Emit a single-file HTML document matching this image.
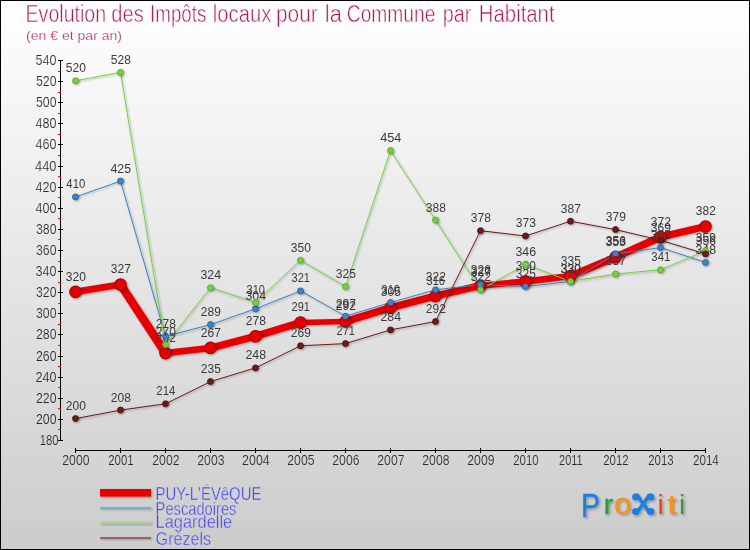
<!DOCTYPE html>
<html lang="fr"><head><meta charset="utf-8"><title>Evolution des Impôts locaux</title>
<style>
html,body{margin:0;padding:0;background:#fff;}
body{width:750px;height:550px;overflow:hidden;}
svg{display:block;font-family:"Liberation Sans",sans-serif;will-change:transform;}
.ax{font-size:14px;fill:#2a2a2a;}
.lb{font-size:13.6px;fill:#3a3a3a;}
.lg{font-size:19px;fill:#4646f5;}
</style></head><body>
<svg width="750" height="550" viewBox="0 0 750 550">
<defs>
<linearGradient id="bg" x1="0" y1="0" x2="0" y2="1"><stop offset="0" stop-color="#ffffff"/><stop offset="1" stop-color="#cccccc"/></linearGradient>
<filter id="sh" x="-5%" y="-5%" width="110%" height="110%"><feDropShadow dx="1" dy="1" stdDeviation="0.8" flood-color="#000" flood-opacity="0.35"/></filter>
<filter id="sh2" x="-5%" y="-10%" width="110%" height="130%"><feDropShadow dx="1.5" dy="1.5" stdDeviation="0.9" flood-color="#000" flood-opacity="0.3"/></filter>
</defs>
<rect x="0" y="0" width="750" height="550" fill="#000"/>
<rect x="1" y="1" width="748" height="548" fill="url(#bg)"/>

<text y="22" font-size="23" fill="#b01c56" stroke="#fefefe" stroke-width="0.5" stroke-linejoin="round"><tspan x="25.5" textLength="80.7" lengthAdjust="spacingAndGlyphs">Evolution</tspan> <tspan x="111.3" textLength="32.4" lengthAdjust="spacingAndGlyphs">des</tspan> <tspan x="150.1" textLength="56.3" lengthAdjust="spacingAndGlyphs">Impôts</tspan> <tspan x="212.8" textLength="58.5" lengthAdjust="spacingAndGlyphs">locaux</tspan> <tspan x="276.0" textLength="41.8" lengthAdjust="spacingAndGlyphs">pour</tspan> <tspan x="324.8" textLength="17.0" lengthAdjust="spacingAndGlyphs">la</tspan> <tspan x="346.8" textLength="88.6" lengthAdjust="spacingAndGlyphs">Commune</tspan> <tspan x="442.8" textLength="28.6" lengthAdjust="spacingAndGlyphs">par</tspan> <tspan x="478.8" textLength="75.8" lengthAdjust="spacingAndGlyphs">Habitant</tspan></text>
<text x="26" y="39.5" font-size="13" fill="#b01c56" stroke="#fcfcfc" stroke-width="0.25" stroke-linejoin="round" textLength="96" lengthAdjust="spacingAndGlyphs">(en € et par an)</text>
<g stroke="#000" stroke-width="1" shape-rendering="crispEdges">
<line x1="60.5" y1="60" x2="60.5" y2="441"/>
<line x1="58" y1="440.5" x2="63" y2="440.5"/>
<line x1="58" y1="419.5" x2="63" y2="419.5"/>
<line x1="58" y1="398.5" x2="63" y2="398.5"/>
<line x1="58" y1="377.5" x2="63" y2="377.5"/>
<line x1="58" y1="356.5" x2="63" y2="356.5"/>
<line x1="58" y1="334.5" x2="63" y2="334.5"/>
<line x1="58" y1="313.5" x2="63" y2="313.5"/>
<line x1="58" y1="292.5" x2="63" y2="292.5"/>
<line x1="58" y1="271.5" x2="63" y2="271.5"/>
<line x1="58" y1="250.5" x2="63" y2="250.5"/>
<line x1="58" y1="229.5" x2="63" y2="229.5"/>
<line x1="58" y1="208.5" x2="63" y2="208.5"/>
<line x1="58" y1="187.5" x2="63" y2="187.5"/>
<line x1="58" y1="166.5" x2="63" y2="166.5"/>
<line x1="58" y1="144.5" x2="63" y2="144.5"/>
<line x1="58" y1="123.5" x2="63" y2="123.5"/>
<line x1="58" y1="102.5" x2="63" y2="102.5"/>
<line x1="58" y1="81.5" x2="63" y2="81.5"/>
<line x1="58" y1="60.5" x2="63" y2="60.5"/>
</g>
<g stroke="#ff0000" stroke-width="1" shape-rendering="crispEdges">
<line x1="58" y1="429.5" x2="61" y2="429.5"/>
<line x1="58" y1="408.5" x2="61" y2="408.5"/>
<line x1="58" y1="387.5" x2="61" y2="387.5"/>
<line x1="58" y1="366.5" x2="61" y2="366.5"/>
<line x1="58" y1="345.5" x2="61" y2="345.5"/>
<line x1="58" y1="324.5" x2="61" y2="324.5"/>
<line x1="58" y1="303.5" x2="61" y2="303.5"/>
<line x1="58" y1="282.5" x2="61" y2="282.5"/>
<line x1="58" y1="261.5" x2="61" y2="261.5"/>
<line x1="58" y1="239.5" x2="61" y2="239.5"/>
<line x1="58" y1="218.5" x2="61" y2="218.5"/>
<line x1="58" y1="197.5" x2="61" y2="197.5"/>
<line x1="58" y1="176.5" x2="61" y2="176.5"/>
<line x1="58" y1="155.5" x2="61" y2="155.5"/>
<line x1="58" y1="134.5" x2="61" y2="134.5"/>
<line x1="58" y1="113.5" x2="61" y2="113.5"/>
<line x1="58" y1="92.5" x2="61" y2="92.5"/>
<line x1="58" y1="71.5" x2="61" y2="71.5"/>
</g>
<text class="ax" x="58.5" y="445.0" stroke="#d6d6d6" stroke-width="0.18" stroke-linejoin="round" text-anchor="end" textLength="18.8" lengthAdjust="spacingAndGlyphs">180</text>
<text class="ax" x="56.5" y="423.9" stroke="#d8d8d8" stroke-width="0.18" stroke-linejoin="round" text-anchor="end" textLength="20.5" lengthAdjust="spacingAndGlyphs">200</text>
<text class="ax" x="56.5" y="402.8" stroke="#dadada" stroke-width="0.18" stroke-linejoin="round" text-anchor="end" textLength="20.5" lengthAdjust="spacingAndGlyphs">220</text>
<text class="ax" x="56.5" y="381.7" stroke="#dcdcdc" stroke-width="0.18" stroke-linejoin="round" text-anchor="end" textLength="21.0" lengthAdjust="spacingAndGlyphs">240</text>
<text class="ax" x="56.5" y="360.6" stroke="#dedede" stroke-width="0.18" stroke-linejoin="round" text-anchor="end" textLength="20.5" lengthAdjust="spacingAndGlyphs">260</text>
<text class="ax" x="56.5" y="339.4" stroke="#e0e0e0" stroke-width="0.18" stroke-linejoin="round" text-anchor="end" textLength="20.5" lengthAdjust="spacingAndGlyphs">280</text>
<text class="ax" x="56.5" y="318.3" stroke="#e2e2e2" stroke-width="0.18" stroke-linejoin="round" text-anchor="end" textLength="20.5" lengthAdjust="spacingAndGlyphs">300</text>
<text class="ax" x="56.5" y="297.2" stroke="#e4e4e4" stroke-width="0.18" stroke-linejoin="round" text-anchor="end" textLength="20.5" lengthAdjust="spacingAndGlyphs">320</text>
<text class="ax" x="56.5" y="276.1" stroke="#e6e6e6" stroke-width="0.18" stroke-linejoin="round" text-anchor="end" textLength="21.0" lengthAdjust="spacingAndGlyphs">340</text>
<text class="ax" x="56.5" y="255.0" stroke="#e8e8e8" stroke-width="0.18" stroke-linejoin="round" text-anchor="end" textLength="20.5" lengthAdjust="spacingAndGlyphs">360</text>
<text class="ax" x="56.5" y="233.9" stroke="#eaeaea" stroke-width="0.18" stroke-linejoin="round" text-anchor="end" textLength="20.5" lengthAdjust="spacingAndGlyphs">380</text>
<text class="ax" x="56.5" y="212.8" stroke="#ececec" stroke-width="0.18" stroke-linejoin="round" text-anchor="end" textLength="21.0" lengthAdjust="spacingAndGlyphs">400</text>
<text class="ax" x="56.5" y="191.7" stroke="#eeeeee" stroke-width="0.18" stroke-linejoin="round" text-anchor="end" textLength="21.0" lengthAdjust="spacingAndGlyphs">420</text>
<text class="ax" x="56.5" y="170.6" stroke="#f0f0f0" stroke-width="0.18" stroke-linejoin="round" text-anchor="end" textLength="21.5" lengthAdjust="spacingAndGlyphs">440</text>
<text class="ax" x="56.5" y="149.4" stroke="#f2f2f2" stroke-width="0.18" stroke-linejoin="round" text-anchor="end" textLength="21.0" lengthAdjust="spacingAndGlyphs">460</text>
<text class="ax" x="56.5" y="128.3" stroke="#f4f4f4" stroke-width="0.18" stroke-linejoin="round" text-anchor="end" textLength="21.0" lengthAdjust="spacingAndGlyphs">480</text>
<text class="ax" x="56.5" y="107.2" stroke="#f6f6f6" stroke-width="0.18" stroke-linejoin="round" text-anchor="end" textLength="20.5" lengthAdjust="spacingAndGlyphs">500</text>
<text class="ax" x="56.5" y="86.1" stroke="#f7f7f7" stroke-width="0.18" stroke-linejoin="round" text-anchor="end" textLength="20.5" lengthAdjust="spacingAndGlyphs">520</text>
<text class="ax" x="56.5" y="65.0" stroke="#f9f9f9" stroke-width="0.18" stroke-linejoin="round" text-anchor="end" textLength="21.0" lengthAdjust="spacingAndGlyphs">540</text>
<g stroke="#000" stroke-width="1" shape-rendering="crispEdges">
<line x1="75" y1="450.5" x2="706" y2="450.5"/>
<line x1="75.5" y1="448" x2="75.5" y2="453"/>
<line x1="120.5" y1="448" x2="120.5" y2="453"/>
<line x1="165.5" y1="448" x2="165.5" y2="453"/>
<line x1="210.5" y1="448" x2="210.5" y2="453"/>
<line x1="255.5" y1="448" x2="255.5" y2="453"/>
<line x1="300.5" y1="448" x2="300.5" y2="453"/>
<line x1="345.5" y1="448" x2="345.5" y2="453"/>
<line x1="390.5" y1="448" x2="390.5" y2="453"/>
<line x1="435.5" y1="448" x2="435.5" y2="453"/>
<line x1="480.5" y1="448" x2="480.5" y2="453"/>
<line x1="525.5" y1="448" x2="525.5" y2="453"/>
<line x1="570.5" y1="448" x2="570.5" y2="453"/>
<line x1="615.5" y1="448" x2="615.5" y2="453"/>
<line x1="660.5" y1="448" x2="660.5" y2="453"/>
<line x1="705.5" y1="448" x2="705.5" y2="453"/>
</g>
<text class="ax" x="75.9" y="464.8" stroke="#d4d4d4" stroke-width="0.18" stroke-linejoin="round" text-anchor="middle" textLength="27.1" lengthAdjust="spacingAndGlyphs">2000</text>
<text class="ax" x="120.9" y="464.8" stroke="#d4d4d4" stroke-width="0.18" stroke-linejoin="round" text-anchor="middle" textLength="25.4" lengthAdjust="spacingAndGlyphs">2001</text>
<text class="ax" x="165.9" y="464.8" stroke="#d4d4d4" stroke-width="0.18" stroke-linejoin="round" text-anchor="middle" textLength="27.1" lengthAdjust="spacingAndGlyphs">2002</text>
<text class="ax" x="210.9" y="464.8" stroke="#d4d4d4" stroke-width="0.18" stroke-linejoin="round" text-anchor="middle" textLength="27.1" lengthAdjust="spacingAndGlyphs">2003</text>
<text class="ax" x="255.9" y="464.8" stroke="#d4d4d4" stroke-width="0.18" stroke-linejoin="round" text-anchor="middle" textLength="27.6" lengthAdjust="spacingAndGlyphs">2004</text>
<text class="ax" x="300.9" y="464.8" stroke="#d4d4d4" stroke-width="0.18" stroke-linejoin="round" text-anchor="middle" textLength="27.1" lengthAdjust="spacingAndGlyphs">2005</text>
<text class="ax" x="345.9" y="464.8" stroke="#d4d4d4" stroke-width="0.18" stroke-linejoin="round" text-anchor="middle" textLength="27.1" lengthAdjust="spacingAndGlyphs">2006</text>
<text class="ax" x="390.9" y="464.8" stroke="#d4d4d4" stroke-width="0.18" stroke-linejoin="round" text-anchor="middle" textLength="27.1" lengthAdjust="spacingAndGlyphs">2007</text>
<text class="ax" x="435.9" y="464.8" stroke="#d4d4d4" stroke-width="0.18" stroke-linejoin="round" text-anchor="middle" textLength="27.1" lengthAdjust="spacingAndGlyphs">2008</text>
<text class="ax" x="480.9" y="464.8" stroke="#d4d4d4" stroke-width="0.18" stroke-linejoin="round" text-anchor="middle" textLength="27.1" lengthAdjust="spacingAndGlyphs">2009</text>
<text class="ax" x="525.9" y="464.8" stroke="#d4d4d4" stroke-width="0.18" stroke-linejoin="round" text-anchor="middle" textLength="25.4" lengthAdjust="spacingAndGlyphs">2010</text>
<text class="ax" x="570.9" y="464.8" stroke="#d4d4d4" stroke-width="0.18" stroke-linejoin="round" text-anchor="middle" textLength="23.7" lengthAdjust="spacingAndGlyphs">2011</text>
<text class="ax" x="615.9" y="464.8" stroke="#d4d4d4" stroke-width="0.18" stroke-linejoin="round" text-anchor="middle" textLength="25.4" lengthAdjust="spacingAndGlyphs">2012</text>
<text class="ax" x="660.9" y="464.8" stroke="#d4d4d4" stroke-width="0.18" stroke-linejoin="round" text-anchor="middle" textLength="25.4" lengthAdjust="spacingAndGlyphs">2013</text>
<text class="ax" x="705.9" y="464.8" stroke="#d4d4d4" stroke-width="0.18" stroke-linejoin="round" text-anchor="middle" textLength="25.9" lengthAdjust="spacingAndGlyphs">2014</text>
<g filter="url(#sh)">
<line x1="75.5" y1="291.9" x2="120.5" y2="284.5" stroke="#e60000" stroke-width="6.8"/>
<line x1="120.5" y1="284.5" x2="165.5" y2="353.1" stroke="#e60000" stroke-width="8.5"/>
<line x1="165.5" y1="353.1" x2="210.5" y2="347.9" stroke="#e60000" stroke-width="6.5"/>
<line x1="210.5" y1="347.9" x2="255.5" y2="336.3" stroke="#e60000" stroke-width="7.2"/>
<line x1="255.5" y1="336.3" x2="300.5" y2="322.5" stroke="#e60000" stroke-width="7.3"/>
<line x1="300.5" y1="322.5" x2="345.5" y2="321.5" stroke="#e60000" stroke-width="5.7"/>
<line x1="345.5" y1="321.5" x2="390.5" y2="307.8" stroke="#e60000" stroke-width="7.3"/>
<line x1="390.5" y1="307.8" x2="435.5" y2="296.1" stroke="#e60000" stroke-width="7.2"/>
<line x1="435.5" y1="296.1" x2="480.5" y2="285.6" stroke="#e60000" stroke-width="7.2"/>
<line x1="480.5" y1="285.6" x2="525.5" y2="281.4" stroke="#e60000" stroke-width="6.3"/>
<line x1="525.5" y1="281.4" x2="570.5" y2="276.1" stroke="#e60000" stroke-width="6.5"/>
<line x1="570.5" y1="276.1" x2="615.5" y2="257.1" stroke="#e60000" stroke-width="7.4"/>
<line x1="615.5" y1="257.1" x2="660.5" y2="237.0" stroke="#e60000" stroke-width="7.4"/>
<line x1="660.5" y1="237.0" x2="705.5" y2="226.5" stroke="#e60000" stroke-width="7.2"/>
</g>
<g filter="url(#sh)">
<polyline points="75.5,196.9 120.5,181.1 165.5,336.3 210.5,324.6 255.5,308.8 300.5,290.9 345.5,316.2 390.5,302.5 435.5,289.8 480.5,284.5 525.5,286.6 570.5,281.4 615.5,253.9 660.5,247.6 705.5,262.4" fill="none" stroke="#3d85c6" stroke-width="1.0" stroke-linejoin="round"/>
</g>
<g filter="url(#sh)">
<polyline points="75.5,80.8 120.5,72.4 165.5,344.7 210.5,287.7 255.5,302.5 300.5,260.3 345.5,286.6 390.5,150.5 435.5,220.1 480.5,289.8 525.5,264.5 570.5,281.4 615.5,274.0 660.5,269.8 705.5,250.8" fill="none" stroke="#76d03c" stroke-width="1.0" stroke-linejoin="round"/>
</g>
<g filter="url(#sh)">
<polyline points="75.5,418.6 120.5,410.1 165.5,403.8 210.5,381.6 255.5,367.9 300.5,345.8 345.5,343.6 390.5,329.9 435.5,321.5 480.5,230.7 525.5,236.0 570.5,221.2 615.5,229.6 660.5,240.2 705.5,253.9" fill="none" stroke="#6a1c1c" stroke-width="1.0" stroke-linejoin="round"/>
</g>
<g filter="url(#sh)">
<circle cx="75.5" cy="291.9" r="5.75" fill="#e60000" stroke="#a80000" stroke-width="1.1"/>
<circle cx="120.5" cy="284.5" r="5.75" fill="#e60000" stroke="#a80000" stroke-width="1.1"/>
<circle cx="165.5" cy="353.1" r="5.75" fill="#e60000" stroke="#a80000" stroke-width="1.1"/>
<circle cx="210.5" cy="347.9" r="5.75" fill="#e60000" stroke="#a80000" stroke-width="1.1"/>
<circle cx="255.5" cy="336.3" r="5.75" fill="#e60000" stroke="#a80000" stroke-width="1.1"/>
<circle cx="300.5" cy="322.5" r="5.75" fill="#e60000" stroke="#a80000" stroke-width="1.1"/>
<circle cx="345.5" cy="321.5" r="5.75" fill="#e60000" stroke="#a80000" stroke-width="1.1"/>
<circle cx="390.5" cy="307.8" r="5.75" fill="#e60000" stroke="#a80000" stroke-width="1.1"/>
<circle cx="435.5" cy="296.1" r="5.75" fill="#e60000" stroke="#a80000" stroke-width="1.1"/>
<circle cx="480.5" cy="285.6" r="5.75" fill="#e60000" stroke="#a80000" stroke-width="1.1"/>
<circle cx="525.5" cy="281.4" r="5.75" fill="#e60000" stroke="#a80000" stroke-width="1.1"/>
<circle cx="570.5" cy="276.1" r="5.75" fill="#e60000" stroke="#a80000" stroke-width="1.1"/>
<circle cx="615.5" cy="257.1" r="5.75" fill="#e60000" stroke="#a80000" stroke-width="1.1"/>
<circle cx="660.5" cy="237.0" r="5.75" fill="#e60000" stroke="#a80000" stroke-width="1.1"/>
<circle cx="705.5" cy="226.5" r="5.75" fill="#e60000" stroke="#a80000" stroke-width="1.1"/>
</g>
<text class="lb" x="75.8" y="280.5" text-anchor="middle" textLength="20.1" lengthAdjust="spacingAndGlyphs">320</text>
<text class="lb" x="120.8" y="273.1" text-anchor="middle" textLength="20.1" lengthAdjust="spacingAndGlyphs">327</text>
<text class="lb" x="165.8" y="341.7" text-anchor="middle" textLength="20.1" lengthAdjust="spacingAndGlyphs">262</text>
<text class="lb" x="210.8" y="336.5" text-anchor="middle" textLength="20.1" lengthAdjust="spacingAndGlyphs">267</text>
<text class="lb" x="255.8" y="324.9" text-anchor="middle" textLength="20.1" lengthAdjust="spacingAndGlyphs">278</text>
<text class="lb" x="300.8" y="311.1" text-anchor="middle" textLength="18.4" lengthAdjust="spacingAndGlyphs">291</text>
<text class="lb" x="345.8" y="310.1" text-anchor="middle" textLength="20.1" lengthAdjust="spacingAndGlyphs">292</text>
<text class="lb" x="390.8" y="296.4" text-anchor="middle" textLength="20.1" lengthAdjust="spacingAndGlyphs">305</text>
<text class="lb" x="435.8" y="284.7" text-anchor="middle" textLength="18.4" lengthAdjust="spacingAndGlyphs">316</text>
<text class="lb" x="480.8" y="274.2" text-anchor="middle" textLength="20.1" lengthAdjust="spacingAndGlyphs">326</text>
<text class="lb" x="525.8" y="270.0" text-anchor="middle" textLength="20.1" lengthAdjust="spacingAndGlyphs">330</text>
<text class="lb" x="570.8" y="264.7" text-anchor="middle" textLength="20.1" lengthAdjust="spacingAndGlyphs">335</text>
<text class="lb" x="615.8" y="245.7" text-anchor="middle" textLength="20.1" lengthAdjust="spacingAndGlyphs">353</text>
<text class="lb" x="660.8" y="225.6" text-anchor="middle" textLength="20.1" lengthAdjust="spacingAndGlyphs">372</text>
<text class="lb" x="705.8" y="215.1" text-anchor="middle" textLength="20.1" lengthAdjust="spacingAndGlyphs">382</text>
<g filter="url(#sh)">
<circle cx="75.5" cy="196.9" r="3.0" fill="#3d85c6" stroke="#2a5f96" stroke-width="0.8"/>
<circle cx="120.5" cy="181.1" r="3.0" fill="#3d85c6" stroke="#2a5f96" stroke-width="0.8"/>
<circle cx="165.5" cy="336.3" r="3.0" fill="#3d85c6" stroke="#2a5f96" stroke-width="0.8"/>
<circle cx="210.5" cy="324.6" r="3.0" fill="#3d85c6" stroke="#2a5f96" stroke-width="0.8"/>
<circle cx="255.5" cy="308.8" r="3.0" fill="#3d85c6" stroke="#2a5f96" stroke-width="0.8"/>
<circle cx="300.5" cy="290.9" r="3.0" fill="#3d85c6" stroke="#2a5f96" stroke-width="0.8"/>
<circle cx="345.5" cy="316.2" r="3.0" fill="#3d85c6" stroke="#2a5f96" stroke-width="0.8"/>
<circle cx="390.5" cy="302.5" r="3.0" fill="#3d85c6" stroke="#2a5f96" stroke-width="0.8"/>
<circle cx="435.5" cy="289.8" r="3.0" fill="#3d85c6" stroke="#2a5f96" stroke-width="0.8"/>
<circle cx="480.5" cy="284.5" r="3.0" fill="#3d85c6" stroke="#2a5f96" stroke-width="0.8"/>
<circle cx="525.5" cy="286.6" r="3.0" fill="#3d85c6" stroke="#2a5f96" stroke-width="0.8"/>
<circle cx="570.5" cy="281.4" r="3.0" fill="#3d85c6" stroke="#2a5f96" stroke-width="0.8"/>
<circle cx="615.5" cy="253.9" r="3.0" fill="#3d85c6" stroke="#2a5f96" stroke-width="0.8"/>
<circle cx="660.5" cy="247.6" r="3.0" fill="#3d85c6" stroke="#2a5f96" stroke-width="0.8"/>
<circle cx="705.5" cy="262.4" r="3.0" fill="#3d85c6" stroke="#2a5f96" stroke-width="0.8"/>
</g>
<text class="lb" x="75.8" y="188.3" text-anchor="middle" textLength="18.9" lengthAdjust="spacingAndGlyphs">410</text>
<text class="lb" x="120.8" y="172.5" text-anchor="middle" textLength="20.6" lengthAdjust="spacingAndGlyphs">425</text>
<text class="lb" x="165.8" y="327.7" text-anchor="middle" textLength="20.1" lengthAdjust="spacingAndGlyphs">278</text>
<text class="lb" x="210.8" y="316.0" text-anchor="middle" textLength="20.1" lengthAdjust="spacingAndGlyphs">289</text>
<text class="lb" x="255.8" y="300.2" text-anchor="middle" textLength="20.6" lengthAdjust="spacingAndGlyphs">304</text>
<text class="lb" x="300.8" y="282.3" text-anchor="middle" textLength="18.4" lengthAdjust="spacingAndGlyphs">321</text>
<text class="lb" x="345.8" y="307.6" text-anchor="middle" textLength="20.1" lengthAdjust="spacingAndGlyphs">297</text>
<text class="lb" x="390.8" y="293.9" text-anchor="middle" textLength="18.4" lengthAdjust="spacingAndGlyphs">310</text>
<text class="lb" x="435.8" y="281.2" text-anchor="middle" textLength="20.1" lengthAdjust="spacingAndGlyphs">322</text>
<text class="lb" x="480.8" y="275.9" text-anchor="middle" textLength="20.1" lengthAdjust="spacingAndGlyphs">327</text>
<text class="lb" x="525.8" y="278.0" text-anchor="middle" textLength="20.1" lengthAdjust="spacingAndGlyphs">325</text>
<text class="lb" x="570.8" y="272.8" text-anchor="middle" textLength="20.1" lengthAdjust="spacingAndGlyphs">330</text>
<text class="lb" x="615.8" y="245.3" text-anchor="middle" textLength="20.1" lengthAdjust="spacingAndGlyphs">356</text>
<text class="lb" x="660.8" y="239.0" text-anchor="middle" textLength="20.1" lengthAdjust="spacingAndGlyphs">362</text>
<text class="lb" x="705.8" y="253.8" text-anchor="middle" textLength="20.6" lengthAdjust="spacingAndGlyphs">348</text>
<g filter="url(#sh)">
<circle cx="75.5" cy="80.8" r="3.0" fill="#76d03c" stroke="#57a329" stroke-width="0.8"/>
<circle cx="120.5" cy="72.4" r="3.0" fill="#76d03c" stroke="#57a329" stroke-width="0.8"/>
<circle cx="165.5" cy="344.7" r="3.0" fill="#76d03c" stroke="#57a329" stroke-width="0.8"/>
<circle cx="210.5" cy="287.7" r="3.0" fill="#76d03c" stroke="#57a329" stroke-width="0.8"/>
<circle cx="255.5" cy="302.5" r="3.0" fill="#76d03c" stroke="#57a329" stroke-width="0.8"/>
<circle cx="300.5" cy="260.3" r="3.0" fill="#76d03c" stroke="#57a329" stroke-width="0.8"/>
<circle cx="345.5" cy="286.6" r="3.0" fill="#76d03c" stroke="#57a329" stroke-width="0.8"/>
<circle cx="390.5" cy="150.5" r="3.0" fill="#76d03c" stroke="#57a329" stroke-width="0.8"/>
<circle cx="435.5" cy="220.1" r="3.0" fill="#76d03c" stroke="#57a329" stroke-width="0.8"/>
<circle cx="480.5" cy="289.8" r="3.0" fill="#76d03c" stroke="#57a329" stroke-width="0.8"/>
<circle cx="525.5" cy="264.5" r="3.0" fill="#76d03c" stroke="#57a329" stroke-width="0.8"/>
<circle cx="570.5" cy="281.4" r="3.0" fill="#76d03c" stroke="#57a329" stroke-width="0.8"/>
<circle cx="615.5" cy="274.0" r="3.0" fill="#76d03c" stroke="#57a329" stroke-width="0.8"/>
<circle cx="660.5" cy="269.8" r="3.0" fill="#76d03c" stroke="#57a329" stroke-width="0.8"/>
<circle cx="705.5" cy="250.8" r="3.0" fill="#76d03c" stroke="#57a329" stroke-width="0.8"/>
</g>
<text class="lb" x="75.8" y="72.2" text-anchor="middle" textLength="20.1" lengthAdjust="spacingAndGlyphs">520</text>
<text class="lb" x="120.8" y="63.8" text-anchor="middle" textLength="20.1" lengthAdjust="spacingAndGlyphs">528</text>
<text class="lb" x="165.8" y="336.1" text-anchor="middle" textLength="20.1" lengthAdjust="spacingAndGlyphs">270</text>
<text class="lb" x="210.8" y="279.1" text-anchor="middle" textLength="20.6" lengthAdjust="spacingAndGlyphs">324</text>
<text class="lb" x="255.8" y="293.9" text-anchor="middle" textLength="18.4" lengthAdjust="spacingAndGlyphs">310</text>
<text class="lb" x="300.8" y="251.7" text-anchor="middle" textLength="20.1" lengthAdjust="spacingAndGlyphs">350</text>
<text class="lb" x="345.8" y="278.0" text-anchor="middle" textLength="20.1" lengthAdjust="spacingAndGlyphs">325</text>
<text class="lb" x="390.8" y="141.9" text-anchor="middle" textLength="21.1" lengthAdjust="spacingAndGlyphs">454</text>
<text class="lb" x="435.8" y="211.5" text-anchor="middle" textLength="20.1" lengthAdjust="spacingAndGlyphs">388</text>
<text class="lb" x="480.8" y="281.2" text-anchor="middle" textLength="20.1" lengthAdjust="spacingAndGlyphs">322</text>
<text class="lb" x="525.8" y="255.9" text-anchor="middle" textLength="20.6" lengthAdjust="spacingAndGlyphs">346</text>
<text class="lb" x="570.8" y="272.8" text-anchor="middle" textLength="20.1" lengthAdjust="spacingAndGlyphs">330</text>
<text class="lb" x="615.8" y="265.4" text-anchor="middle" textLength="20.1" lengthAdjust="spacingAndGlyphs">337</text>
<text class="lb" x="660.8" y="261.2" text-anchor="middle" textLength="18.9" lengthAdjust="spacingAndGlyphs">341</text>
<text class="lb" x="705.8" y="242.2" text-anchor="middle" textLength="20.1" lengthAdjust="spacingAndGlyphs">359</text>
<g filter="url(#sh)">
<circle cx="75.5" cy="418.6" r="3.0" fill="#6a1c1c" stroke="#4a1010" stroke-width="0.8"/>
<circle cx="120.5" cy="410.1" r="3.0" fill="#6a1c1c" stroke="#4a1010" stroke-width="0.8"/>
<circle cx="165.5" cy="403.8" r="3.0" fill="#6a1c1c" stroke="#4a1010" stroke-width="0.8"/>
<circle cx="210.5" cy="381.6" r="3.0" fill="#6a1c1c" stroke="#4a1010" stroke-width="0.8"/>
<circle cx="255.5" cy="367.9" r="3.0" fill="#6a1c1c" stroke="#4a1010" stroke-width="0.8"/>
<circle cx="300.5" cy="345.8" r="3.0" fill="#6a1c1c" stroke="#4a1010" stroke-width="0.8"/>
<circle cx="345.5" cy="343.6" r="3.0" fill="#6a1c1c" stroke="#4a1010" stroke-width="0.8"/>
<circle cx="390.5" cy="329.9" r="3.0" fill="#6a1c1c" stroke="#4a1010" stroke-width="0.8"/>
<circle cx="435.5" cy="321.5" r="3.0" fill="#6a1c1c" stroke="#4a1010" stroke-width="0.8"/>
<circle cx="480.5" cy="230.7" r="3.0" fill="#6a1c1c" stroke="#4a1010" stroke-width="0.8"/>
<circle cx="525.5" cy="236.0" r="3.0" fill="#6a1c1c" stroke="#4a1010" stroke-width="0.8"/>
<circle cx="570.5" cy="221.2" r="3.0" fill="#6a1c1c" stroke="#4a1010" stroke-width="0.8"/>
<circle cx="615.5" cy="229.6" r="3.0" fill="#6a1c1c" stroke="#4a1010" stroke-width="0.8"/>
<circle cx="660.5" cy="240.2" r="3.0" fill="#6a1c1c" stroke="#4a1010" stroke-width="0.8"/>
<circle cx="705.5" cy="253.9" r="3.0" fill="#6a1c1c" stroke="#4a1010" stroke-width="0.8"/>
</g>
<text class="lb" x="75.8" y="410.0" text-anchor="middle" textLength="20.1" lengthAdjust="spacingAndGlyphs">200</text>
<text class="lb" x="120.8" y="401.5" text-anchor="middle" textLength="20.1" lengthAdjust="spacingAndGlyphs">208</text>
<text class="lb" x="165.8" y="395.2" text-anchor="middle" textLength="18.9" lengthAdjust="spacingAndGlyphs">214</text>
<text class="lb" x="210.8" y="373.0" text-anchor="middle" textLength="20.1" lengthAdjust="spacingAndGlyphs">235</text>
<text class="lb" x="255.8" y="359.3" text-anchor="middle" textLength="20.6" lengthAdjust="spacingAndGlyphs">248</text>
<text class="lb" x="300.8" y="337.2" text-anchor="middle" textLength="20.1" lengthAdjust="spacingAndGlyphs">269</text>
<text class="lb" x="345.8" y="335.0" text-anchor="middle" textLength="18.4" lengthAdjust="spacingAndGlyphs">271</text>
<text class="lb" x="390.8" y="321.3" text-anchor="middle" textLength="20.6" lengthAdjust="spacingAndGlyphs">284</text>
<text class="lb" x="435.8" y="312.9" text-anchor="middle" textLength="20.1" lengthAdjust="spacingAndGlyphs">292</text>
<text class="lb" x="480.8" y="222.1" text-anchor="middle" textLength="20.1" lengthAdjust="spacingAndGlyphs">378</text>
<text class="lb" x="525.8" y="227.4" text-anchor="middle" textLength="20.1" lengthAdjust="spacingAndGlyphs">373</text>
<text class="lb" x="570.8" y="212.6" text-anchor="middle" textLength="20.1" lengthAdjust="spacingAndGlyphs">387</text>
<text class="lb" x="615.8" y="221.0" text-anchor="middle" textLength="20.1" lengthAdjust="spacingAndGlyphs">379</text>
<text class="lb" x="660.8" y="231.6" text-anchor="middle" textLength="20.1" lengthAdjust="spacingAndGlyphs">369</text>
<text class="lb" x="705.8" y="245.3" text-anchor="middle" textLength="20.1" lengthAdjust="spacingAndGlyphs">356</text>
<g filter="url(#sh)">
<rect x="100" y="489" width="51" height="7.6" fill="#e60000"/>
<line x1="100" y1="508" x2="151" y2="508" stroke="#6fa3d0" stroke-width="1.5"/>
<line x1="100" y1="523" x2="151" y2="523" stroke="#9ed67f" stroke-width="1.5"/>
<line x1="100" y1="538" x2="151" y2="538" stroke="#8b4a4a" stroke-width="1.5"/>
</g>
<text class="lg" x="155.6" y="499.6" stroke="#d1d1d1" stroke-width="0.4" stroke-linejoin="round" textLength="105.8" lengthAdjust="spacingAndGlyphs">PUY-L'ÉVêQUE</text>
<text class="lg" x="155.6" y="514.6" stroke="#d0d0d0" stroke-width="0.4" stroke-linejoin="round" textLength="80.8" lengthAdjust="spacingAndGlyphs">Pescadoires</text>
<text class="lg" x="155.6" y="527.6" stroke="#cecece" stroke-width="0.4" stroke-linejoin="round" textLength="76.6" lengthAdjust="spacingAndGlyphs">Lagardelle</text>
<text class="lg" x="155.6" y="544.6" stroke="#cdcdcd" stroke-width="0.4" stroke-linejoin="round" textLength="55.6" lengthAdjust="spacingAndGlyphs">Grézels</text>
<g filter="url(#sh2)" text-anchor="middle" font-size="28" stroke-width="0.4" stroke-linejoin="round">
<text transform="translate(590.6 517) scale(0.84 1)" x="0" y="0" font-size="34" fill="#1f7fdc" stroke="#1f7fdc">P</text>
<text x="608.5" y="513.8" fill="#2d9b3c" stroke="#2d9b3c">r</text>
<text transform="translate(622.8 514) scale(1.08 1)" x="0" y="0" font-size="29" fill="#f7901e" stroke="#f7901e">o</text>
<text x="643.2" y="513.8" font-size="37" fill="#1f7fdc" stroke="#1f7fdc" stroke-width="0.7">x</text>
<circle cx="635.6" cy="497.0" r="3.5" fill="#1f7fdc" stroke="none"/>
<circle cx="650.8" cy="497.0" r="3.5" fill="#1f7fdc" stroke="none"/>
<circle cx="635.6" cy="511.6" r="3.5" fill="#1f7fdc" stroke="none"/>
<circle cx="650.8" cy="511.6" r="3.5" fill="#1f7fdc" stroke="none"/>
<text x="660.6" y="513.8" fill="#e8421e" stroke="none">i</text>
<text transform="translate(672 513.8) scale(1.3 1)" x="0" y="0" fill="#f7901e" stroke="none">t</text>
<text x="682.2" y="513.8" fill="#2d9b3c" stroke="none">i</text>
</g>
</svg></body></html>
